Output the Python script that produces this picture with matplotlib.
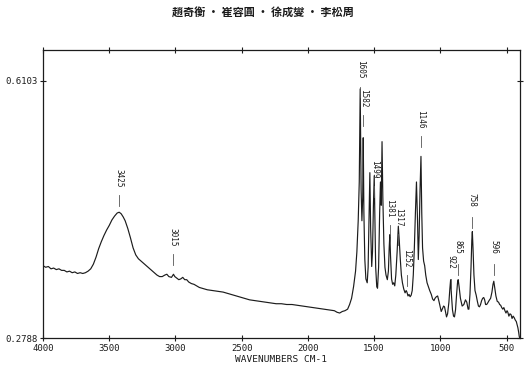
import matplotlib
matplotlib.use("Agg")
import matplotlib.pyplot as plt

# ==========================================
# DADOS DO ESPECTRO
# ==========================================
numero_onda = [
    4000, 3980, 3960, 3940, 3920, 3900, 3880, 3860, 3840, 3820, 3800, 3780, 3760, 3740,
    3720, 3700, 3680, 3660, 3640, 3620, 3600, 3580, 3560, 3540, 3520, 3500, 3480, 3460,
    3440, 3425, 3410, 3395, 3380, 3360, 3340, 3320, 3300, 3280, 3260, 3240, 3220, 3200,
    3180, 3160, 3140, 3120, 3100, 3080, 3065, 3050, 3030, 3015, 3005, 2990, 2975, 2960,
    2945, 2930, 2915, 2900, 2880, 2860, 2840, 2820, 2800, 2760, 2720, 2680, 2640, 2600,
    2560, 2520, 2480, 2440, 2400, 2360, 2320, 2280, 2240, 2200, 2160, 2120, 2080, 2040,
    2000, 1960, 1920, 1880, 1840, 1800, 1780, 1760, 1740, 1720, 1700, 1685, 1670, 1655,
    1640, 1630, 1620, 1612, 1605, 1598, 1592, 1586, 1582, 1577, 1570, 1562, 1552, 1545,
    1538, 1532, 1526, 1518, 1512, 1505, 1499, 1494, 1488, 1480, 1474, 1466, 1458, 1452,
    1446, 1440, 1434, 1426, 1418, 1410, 1400, 1392, 1386, 1381, 1376, 1368, 1360, 1352,
    1344, 1336, 1326, 1317, 1310, 1302, 1294, 1286, 1276, 1266, 1258, 1252, 1244, 1236,
    1228, 1220, 1212, 1204, 1196, 1188, 1180, 1172, 1166, 1160, 1153, 1146, 1140, 1134,
    1126, 1118, 1110, 1100, 1090, 1080, 1068, 1058, 1048, 1040, 1030, 1020, 1010, 1000,
    993, 985, 975, 968, 960, 953, 945, 935, 928, 922, 916, 908, 900, 893,
    885, 877, 870, 865, 858, 848, 835, 822, 810, 800, 790, 784, 776, 768,
    762, 758, 753, 746, 738, 729, 720, 712, 704, 696, 688, 680, 672, 665,
    658, 650, 642, 632, 620, 610, 602, 596, 590, 580, 570, 560, 552, 544,
    536, 528, 520, 512, 504, 496, 490, 482, 474, 466, 458, 450, 442, 434,
    426, 420, 414, 408, 404, 400,
]
absorbancia = [
    0.372, 0.370, 0.371, 0.368, 0.369, 0.367, 0.368, 0.366, 0.366, 0.364, 0.365, 0.363, 0.364, 0.362,
    0.363, 0.362, 0.363, 0.365, 0.368, 0.374, 0.383, 0.394, 0.403, 0.411, 0.418, 0.424, 0.431, 0.436,
    0.440, 0.441, 0.439, 0.435, 0.430, 0.420, 0.408, 0.395, 0.386, 0.381, 0.378, 0.375, 0.372, 0.369,
    0.366, 0.363, 0.360, 0.358, 0.358, 0.360, 0.361, 0.358, 0.357, 0.361, 0.358, 0.356, 0.354, 0.355,
    0.357, 0.354, 0.354, 0.351, 0.349, 0.348, 0.346, 0.344, 0.343, 0.341, 0.340, 0.339, 0.338, 0.336,
    0.334, 0.332, 0.330, 0.328, 0.327, 0.326, 0.325, 0.324, 0.323, 0.323, 0.322, 0.322, 0.321, 0.320,
    0.319, 0.318, 0.317, 0.316, 0.315, 0.314, 0.312, 0.311, 0.313, 0.314, 0.316, 0.322, 0.330, 0.345,
    0.365, 0.390, 0.430, 0.480, 0.600, 0.470, 0.430, 0.460, 0.537, 0.440, 0.380, 0.355, 0.350, 0.370,
    0.440, 0.492, 0.420, 0.371, 0.390, 0.450, 0.488, 0.430, 0.370, 0.345, 0.343, 0.370, 0.440, 0.480,
    0.450, 0.532, 0.460, 0.400, 0.370, 0.360, 0.354, 0.365, 0.395, 0.412, 0.385, 0.355, 0.348, 0.350,
    0.346, 0.360, 0.390, 0.423, 0.405, 0.380, 0.360, 0.350, 0.342, 0.337, 0.340, 0.338, 0.333, 0.335,
    0.332, 0.334, 0.340, 0.360, 0.395, 0.440, 0.480, 0.430, 0.380, 0.410, 0.470, 0.513, 0.440, 0.395,
    0.378, 0.372, 0.360, 0.350, 0.345, 0.340, 0.335, 0.329, 0.327, 0.330, 0.332, 0.333, 0.326, 0.318,
    0.313, 0.316, 0.320, 0.319, 0.312, 0.306, 0.310, 0.325, 0.342, 0.354, 0.335, 0.315, 0.307, 0.306,
    0.315, 0.335, 0.350, 0.354, 0.345, 0.330, 0.320, 0.322, 0.328, 0.325, 0.316, 0.316, 0.335, 0.370,
    0.405, 0.416, 0.395, 0.360, 0.340, 0.334, 0.326, 0.320, 0.319, 0.322, 0.327, 0.330, 0.331, 0.328,
    0.322, 0.322, 0.324, 0.327, 0.330, 0.338, 0.348, 0.352, 0.345, 0.333, 0.326, 0.325, 0.322, 0.321,
    0.318, 0.316, 0.318, 0.314, 0.311, 0.314, 0.312, 0.307, 0.310, 0.309, 0.304, 0.307, 0.305, 0.302,
    0.300, 0.296, 0.292, 0.286, 0.281, 0.279,
]

# picos marcados: posição e altura do rótulo
picos = [3425, 3015, 1605, 1582, 1499, 1381, 1317, 1252, 1146, 922, 865, 758, 596]
altura_rotulo = [0.485, 0.409, 0.625, 0.588, 0.497, 0.446, 0.435, 0.382, 0.561, 0.377, 0.396, 0.457, 0.396]

xticks = [4000, 3500, 3000, 2500, 2000, 1500, 1000, 500]
yticks = [0.2788, 0.6103]
ytick_labels = ["0.2788", "0.6103"]

titulo = "趙奇衡 · 崔容圓 · 徐成燮 · 李松周"

# ==========================================
# FIGURA
# ==========================================
cor = "#1c1c1c"
fig = plt.figure(figsize=(5.25, 3.66), dpi=100)
ax = fig.add_axes([0.082, 0.0765, 0.908, 0.7865])

ax.plot(numero_onda, absorbancia, color=cor, linewidth=0.85)

# rótulos dos picos (texto vertical + marca curta)
for wn, h in zip(picos, altura_rotulo):
    ax.text(wn, h, str(wn), rotation=270, ha="center", va="center",
            fontsize=5.5, family="DejaVu Sans Mono", color=cor)
    ax.plot([wn, wn], [h - 0.022, h - 0.036], color="#555555", linewidth=0.6)

ax.set_xlim(4000, 400)
ax.set_ylim(0.2788, 0.650)
ax.set_xticks(xticks)
ax.set_xticklabels([str(t) for t in xticks], family="DejaVu Sans Mono", fontsize=6.5)
ax.set_yticks(yticks)
ax.set_yticklabels(ytick_labels, family="DejaVu Sans Mono", fontsize=6.5)
ax.tick_params(direction="inout", length=5, width=0.8, color=cor, labelcolor=cor,
               top=True, right=True, labeltop=False, labelright=False, pad=1.5)
for s in ax.spines.values():
    s.set_color(cor)
    s.set_linewidth(0.9)

ax.set_xlabel("WAVENUMBERS CM-1", family="DejaVu Sans Mono", fontsize=6.8,
              color=cor, labelpad=2)

fig.text(0.5, 0.967, titulo, ha="center", va="center", fontsize=8, fontweight="bold",
         family=["Noto Sans CJK TC", "DejaVu Sans"], color=cor)

fig.savefig("out.png", dpi=100)
